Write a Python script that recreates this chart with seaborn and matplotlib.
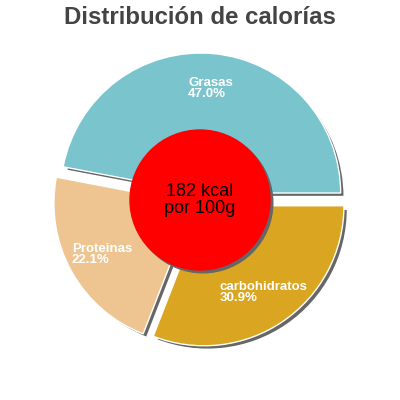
import numpy as np
import matplotlib
matplotlib.use("Agg")
import matplotlib.pyplot as plt
import seaborn as sns

labels = ["Grasas", "Proteinas", "carbohidratos"]
values = [47.0, 22.1, 30.9]
colors = ["#7AC5CD", "#EEC591", "#DAA520"]
center_text = "182 kcal\npor 100g"
title = "Distribución de calorías"

sns.set_theme(style="white")
plt.rcParams["font.family"] = ["Liberation Sans", "DejaVu Sans"]

fig = plt.figure(figsize=(4, 4), dpi=100)
ax = fig.add_axes([0, 0, 1, 1])
lim = 200 / 140
ax.set_aspect("equal")

explode = [0.05] * len(values)
shadow_off = (0.025, -0.025)

# sombra
ax.pie(values, explode=explode, startangle=0, counterclock=True,
       colors=["#666666"] * len(values), center=shadow_off, radius=1.0,
       frame=True)

texts = [f"{l}\n{v:.1f}%" for l, v in zip(labels, values)]
wedges, lbls = ax.pie(values, explode=explode, startangle=0, counterclock=True,
                      colors=colors, labels=texts, labeldistance=0.75,
                      radius=1.0, frame=True,
                      textprops=dict(color="white", fontsize=9.5,
                                     fontweight="bold"))
for t in lbls:
    t.set_horizontalalignment("center")
    t.set_verticalalignment("center")
    t.set_multialignment("left")
    t.set_linespacing(0.9)

ax.add_patch(plt.Circle((0.02, -0.02), 0.5, color="#666666", zorder=5))
ax.add_patch(plt.Circle((0, 0), 0.5, color="#FF0000", zorder=6))
ax.text(0, 0, center_text, ha="center", va="center", fontsize=13,
        color="black", zorder=7, linespacing=1.0)

ax.set_xlim(-lim, lim)
ax.set_ylim(-lim, lim)
ax.axis("off")

fig.text(0.5, 1 - 18 / 400, title, ha="center", va="center",
         fontsize=17.3, fontweight="bold", color="#444444")

plt.savefig("out.png", dpi=100)
